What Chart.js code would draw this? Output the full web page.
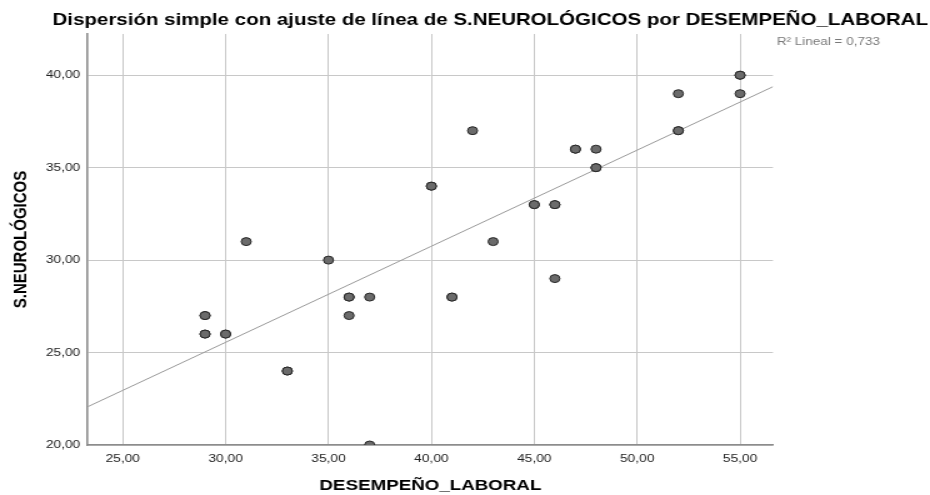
<!DOCTYPE html>
<html>
<head>
<meta charset="utf-8">
<script src="https://cdn.jsdelivr.net/npm/chart.js@4/dist/chart.umd.min.js"></script>
<style>
  html, body { margin: 0; padding: 0; background: #ffffff; overflow: hidden; }
  #wrap { width: 744px; height: 495px; transform: scaleX(1.25); transform-origin: 0 0; }
  #c { display: block; }
</style>
</head>
<body>
<div id="wrap"><canvas id="c" width="744" height="495"></canvas></div>
<script>
// ---- data ----
const chartTitle = 'Dispersión simple con ajuste de línea de S.NEUROLÓGICOS por DESEMPEÑO_LABORAL';
const xTitle = 'DESEMPEÑO_LABORAL';
const yTitle = 'S.NEUROLÓGICOS';
const fitLabel = 'R² Lineal = 0,733';

// DESEMPEÑO_LABORAL (repeated values = overlapping cases)
const xValues = [29,29,29,29,30,30,31,33,33,35,36,36,36,37,37,40,40,41,41,42,43,45,45,46,46,46,47,47,48,48,48,52,52,52,55,55,55];
// S.NEUROLÓGICOS
const yValues = [27,27,26,26,26,26,31,24,24,30,28,28,27,28,20,34,34,28,28,37,31,33,33,33,33,29,36,36,36,35,35,39,37,37,40,40,39];

// linear fit line, read at the two ends of the x range
const fitX = [23.3, 56.6];
const fitY = [22.07, 39.38];

const xTicks = [25, 30, 35, 40, 45, 50, 55];
const yTicks = [20, 25, 30, 35, 40];
const xRange = [23.3, 56.6];
const yRange = [20, 42.23];

// ---- chart ----
const FONT = "'Liberation Sans', Arial, Helvetica, sans-serif";
const fmt = v => Number(v).toFixed(2).replace('.', ',');

const points = xValues.map((x, i) => ({ x: x, y: yValues[i] }));
const fitPoints = fitX.map((x, i) => ({ x: x, y: fitY[i] }));

const fitLabelPlugin = {
  id: 'fitLabel',
  afterDraw(chart) {
    const ctx = chart.ctx;
    const area = chart.chartArea;
    ctx.save();
    ctx.font = '10.8px ' + FONT;
    ctx.fillStyle = '#7a7a7a';
    ctx.textAlign = 'left';
    ctx.textBaseline = 'middle';
    ctx.fillText(fitLabel, area.right + 3, area.top + 8);
    ctx.restore();
  }
};

new Chart(document.getElementById('c'), {
  type: 'scatter',
  data: {
    datasets: [
      {
        type: 'scatter',
        data: points,
        order: 0,
        pointRadius: 4,
        pointHoverRadius: 4,
        backgroundColor: '#6b6b6b',
        borderColor: '#262626',
        borderWidth: 1
      },
      {
        type: 'line',
        data: fitPoints,
        order: 1,
        borderColor: '#9a9a9a',
        borderWidth: 1,
        pointRadius: 0,
        fill: false,
        tension: 0
      }
    ]
  },
  plugins: [fitLabelPlugin],
  options: {
    responsive: false,
    animation: false,
    devicePixelRatio: 1,
    layout: { padding: { left: 0, right: 1.6, top: 0, bottom: 0 } },
    plugins: {
      legend: { display: false },
      tooltip: { enabled: false },
      title: {
        display: true,
        text: chartTitle,
        align: 'end',
        color: '#000000',
        font: { family: FONT, size: 16.4, weight: 'bold' },
        padding: { top: 10.2, bottom: 4.1 }
      }
    },
    scales: {
      x: {
        type: 'linear',
        position: 'bottom',
        min: xRange[0],
        max: xRange[1],
        afterBuildTicks: s => { s.ticks = xTicks.map(v => ({ value: v })); },
        afterFit: s => { s.height = 50; },
        ticks: {
          includeBounds: false,
          callback: v => fmt(v),
          color: '#222222',
          font: { family: FONT, size: 11 },
          padding: 7,
          maxRotation: 0,
          autoSkip: false
        },
        grid: { color: '#c8c8c8', lineWidth: 1, drawTicks: false, tickLength: 0 },
        border: { display: true, color: '#8c8c8c', width: 1.5 },
        title: {
          display: true,
          text: xTitle,
          color: '#000000',
          font: { family: FONT, size: 15, weight: 'bold' },
          padding: { top: 0, bottom: 0 }
        }
      },
      y: {
        type: 'linear',
        position: 'left',
        min: yRange[0],
        max: yRange[1],
        afterBuildTicks: s => { s.ticks = yTicks.map(v => ({ value: v })); },
        afterFit: s => { s.width = 70.2; },
        ticks: {
          includeBounds: false,
          callback: v => fmt(v),
          color: '#222222',
          font: { family: FONT, size: 11 },
          padding: 6,
          autoSkip: false
        },
        grid: { color: '#c8c8c8', lineWidth: 1, drawTicks: false, tickLength: 0 },
        border: { display: true, color: '#8c8c8c', width: 1.6 },
        title: {
          display: true,
          text: yTitle,
          color: '#000000',
          font: { family: FONT, size: 15, weight: 'bold' },
          padding: { top: 8, bottom: 0 }
        }
      },
      yRightSpace: {
        type: 'linear',
        position: 'right',
        display: true,
        afterFit: s => { s.width = 124; },
        ticks: { display: false },
        grid: { display: false, drawTicks: false },
        border: { display: false },
        title: { display: false }
      }
    }
  }
});
</script>
</body>
</html>
